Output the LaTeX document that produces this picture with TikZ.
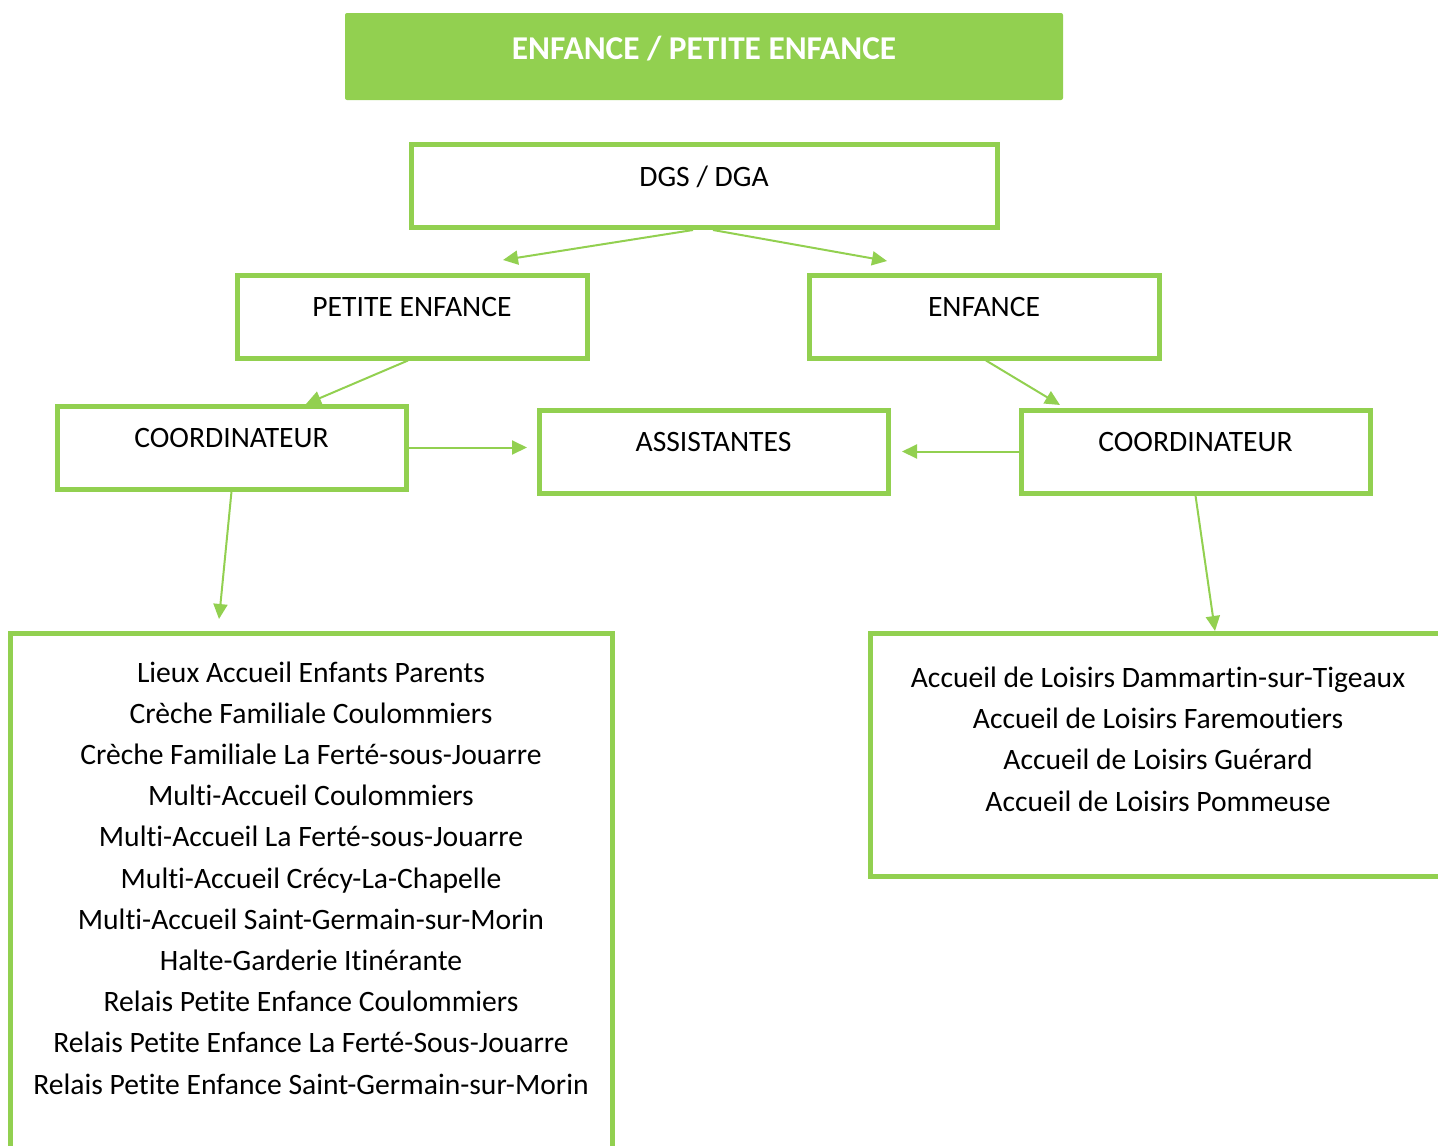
\documentclass[tikz,border=0pt]{standalone}
\usepackage{fontspec}
\setmainfont{Carlito}[Ligatures=NoCommon]
\usetikzlibrary{arrows.meta,positioning}
\definecolor{vert}{HTML}{92D050}
\begin{document}
\begin{tikzpicture}[x=1pt,y=-1pt,
        boite/.style={draw=vert,line width=5pt,minimum width=350pt,inner sep=0pt,text height=41.5pt,text depth=41.5pt,font=\fontsize{29.6}{41.2}\selectfont},
        cadre/.style={draw=vert,line width=5pt,inner sep=0pt},
        liste/.style={align=center,inner sep=0pt,anchor=base,font=\fontsize{29.6}{41.2}\selectfont},
        fleche/.style={draw=vert,line width=2pt,-{Triangle[length=15pt,width=14pt]}}]
    \clip (0,0) rectangle (1438,1146);
    % titre
    \node[fill=vert,rounded corners=2pt,minimum width=718pt,inner sep=0pt,text height=46pt,text depth=41pt,text=white,font=\bfseries\fontsize{33.3}{40}\selectfont] (titre) at (704,56.5) {ENFANCE / PETITE ENFANCE};
    % organigramme
    \node[boite,minimum width=586pt] (dgs) at (704,186) {DGS / DGA};
    \node[boite] (pe) at (412,316.5) {PETITE ENFANCE};
    \node[boite] (enf) at (984,316.5) {ENFANCE};
    \node[boite,minimum width=349pt] (coordg) at (231.5,447.5) {COORDINATEUR};
    \node[boite,minimum width=349pt] (assist) at (713.5,451.5) {ASSISTANTES};
    \node[boite,minimum width=349pt] (coordd) at (1195.5,451.5) {COORDINATEUR};
    % structures
    \node[cadre,minimum width=602pt,minimum height=617pt] (cadreg) at (311,941.5) {};
    \node[cadre,minimum width=576pt,minimum height=243pt] (cadred) at (1158,754.5) {};
    \node[liste] (structg) at (311,1094) {Lieux Accueil Enfants Parents\\
        Crèche Familiale Coulommiers\\
        Crèche Familiale La Ferté-sous-Jouarre\\
        Multi-Accueil Coulommiers\\
        Multi-Accueil La Ferté-sous-Jouarre\\
        Multi-Accueil Crécy-La-Chapelle\\
        Multi-Accueil Saint-Germain-sur-Morin\\
        Halte-Garderie Itinérante\\
        Relais Petite Enfance Coulommiers\\
        Relais Petite Enfance La Ferté-Sous-Jouarre\\
        Relais Petite Enfance Saint-Germain-sur-Morin};
    \node[liste] (structd) at (1158,811) {Accueil de Loisirs Dammartin-sur-Tigeaux\\
        Accueil de Loisirs Faremoutiers\\
        Accueil de Loisirs Guérard\\
        Accueil de Loisirs Pommeuse};
    % fleches
    \coordinate (f1) at (503,260);
    \coordinate (f2) at (887,261);
    \coordinate (f3) at (306,404);
    \coordinate (f4) at (1060,405);
    \coordinate (f5) at (527,447.5);
    \coordinate (f6) at (902,451.5);
    \coordinate (f7) at (219,619);
    \coordinate (f8) at (1215,631);
    \draw[fleche] ([xshift=-11pt]dgs.south) -- (f1);
    \draw[fleche] ([xshift=9pt]dgs.south) -- (f2);
    \draw[fleche] ([xshift=-4pt]pe.south) -- (f3);
    \draw[fleche] ([xshift=2pt]enf.south) -- (f4);
    \draw[fleche] (coordg.east) -- (f5);
    \draw[fleche] (coordd.west) -- (f6);
    \draw[fleche] (coordg.south) -- (f7);
    \draw[fleche] (coordd.south) -- (f8);
\end{tikzpicture}
\end{document}
